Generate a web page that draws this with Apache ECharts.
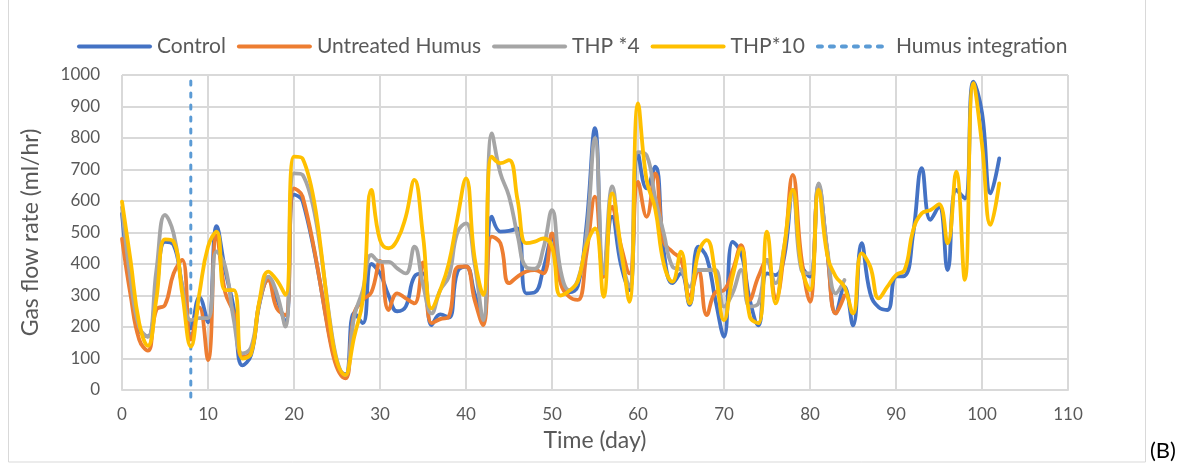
<!DOCTYPE html>
<html>
<head>
<meta charset="utf-8">
<title>Gas flow rate</title>
<script src="https://cdn.jsdelivr.net/npm/echarts@6/dist/echarts.min.js"></script>
<style>
  html, body { margin: 0; padding: 0; background: #ffffff; }
  #chart { width: 1185px; height: 473px; }
</style>
</head>
<body>
<div id="chart"></div>
<script>
// Measurement days (no readings on days 22-25)
const days = [
  0, 1, 2, 3, 4, 5, 6, 7, 8, 9, 10, 11, 12, 13, 14, 15, 16, 17, 18, 19, 20, 21,
  26, 27, 28, 29, 30, 31, 32, 33, 34, 35, 36, 37, 38, 39, 40, 41, 42, 43, 44, 45,
  46, 47, 48, 49, 50, 51, 52, 53, 54, 55, 56, 57, 58, 59, 60, 61, 62, 63, 64, 65,
  66, 67, 68, 69, 70, 71, 72, 73, 74, 75, 76, 77, 78, 79, 80, 81, 82, 83, 84, 85,
  86, 87, 88, 89, 90, 91, 92, 93, 94, 95, 96, 97, 98, 99, 100, 101, 102
];

// Gas flow rate (ml/hr) per reactor, aligned with `days`
const control = [
  560, 320, 190, 170, 320, 470, 460, 330, 195, 295, 215, 520, 380, 260, 78, 110, 275, 350, 290, 215, 620, 600,
  50, 245, 212, 400, 370, 300, 250, 265, 360, 370, 206, 240, 230, 375, 392, 307, 222, 550, 503, 505,
  513, 307, 310, 385, 480, 345, 310, 330, 520, 831, 360, 550, 400, 317, 750, 640, 709, 440, 339, 370,
  270, 455, 420, 286, 169, 470, 434, 286, 205, 370, 365, 423, 635, 400, 360, 650, 440, 243, 328, 205,
  466, 307, 262, 254, 360, 362, 497, 704, 540, 582, 381, 635, 608, 979, 880, 624, 735
];
const untreatedHumus = [
  480, 300, 160, 125, 255, 270, 370, 413, 160, 262, 95, 490, 310, 243, 106, 120, 280, 349, 259, 238, 640, 614,
  37, 243, 286, 310, 410, 254, 307, 291, 275, 405, 212, 225, 233, 390, 392, 286, 206, 487, 466, 339,
  360, 376, 381, 370, 497, 340, 296, 286, 430, 614, 360, 582, 460, 370, 661, 550, 688, 470, 439, 413,
  300, 381, 238, 310, 317, 380, 460, 286, 360, 413, 290, 440, 683, 420, 280, 640, 440, 243, 300
];
const thp4 = [
  580, 350, 200, 169, 380, 556, 497, 330, 222, 228, 228, 440, 392, 222, 116, 135, 280, 360, 307, 201, 688, 683,
  48, 233, 317, 429, 407, 407, 386, 370, 455, 335, 243, 317, 360, 500, 529, 400, 222, 815, 688, 615,
  490, 390, 385, 450, 571, 380, 317, 349, 490, 800, 370, 646, 434, 328, 755, 745, 610, 497, 392, 381,
  328, 381, 381, 381, 265, 307, 381, 265, 275, 413, 339, 455, 624, 381, 370, 656, 450, 307, 349
];
const thp10 = [
  598, 410, 212, 140, 290, 478, 471, 307, 138, 307, 455, 503, 317, 317, 100, 115, 286, 376, 349, 302, 741, 735,
  48, 169, 286, 635, 476, 450, 476, 550, 667, 490, 259, 317, 402, 545, 672, 420, 302, 741, 720, 730,
  603, 466, 471, 481, 455, 300, 315, 345, 460, 513, 296, 624, 455, 280, 910, 667, 575, 400, 344, 439,
  275, 434, 476, 370, 222, 360, 450, 233, 212, 503, 275, 455, 635, 392, 317, 635, 430, 360, 328, 243,
  434, 392, 291, 328, 365, 381, 508, 561, 571, 590, 466, 693, 350, 974, 780, 524, 656
];

// Day on which humus was added, and the vertical span of its marker line
const humusDay = 8;
const humusSpan = [-22, 1000];

const xTicks = { min: 0, max: 110, step: 10 };
const yTicks = { min: 0, max: 1000, step: 100 };

const FONT = 'Lato, "Open Sans", sans-serif';
const TEXT = '#595959';
const GRID = '#D9D9D9';

function pairs(values) {
  return values.map((v, i) => [days[i], v]);
}

function flowSeries(name, values, color) {
  return {
    name: name,
    type: 'line',
    data: pairs(values),
    smooth: 0.45,
    symbol: 'none',
    showSymbol: false,
    lineStyle: { color: color, width: 3.8, cap: 'round', join: 'round' },
    itemStyle: { color: color },
    z: 3
  };
}

const chart = echarts.init(document.getElementById('chart'), null, { renderer: 'canvas' });

chart.setOption({
  animation: false,
  backgroundColor: '#ffffff',
  textStyle: { fontFamily: FONT },
  graphic: [
    {
      type: 'rect',
      shape: { x: 8.5, y: -2, width: 1137, height: 464 },
      style: { fill: null, stroke: GRID, lineWidth: 1 },
      silent: true
    },
    {
      type: 'text',
      left: 1150,
      top: 440,
      style: { text: '(B)', fill: '#000000', font: '22px ' + FONT }
    }
  ],
  legend: {
    top: 31,
    left: 72,
    itemWidth: 71,
    itemHeight: 4,
    itemGap: 11,
    itemStyle: { opacity: 0 },
    lineStyle: { width: 4 },
    textStyle: { color: TEXT, fontSize: 21, fontFamily: FONT, padding: [0, 0, 0, 2] },
    data: ['Control', 'Untreated Humus', 'THP *4', 'THP*10', 'Humus integration']
  },
  grid: { left: 122, right: 117, top: 75, bottom: 83, containLabel: false },
  xAxis: {
    type: 'value',
    min: xTicks.min,
    max: xTicks.max,
    interval: xTicks.step,
    name: 'Time (day)',
    nameLocation: 'middle',
    nameGap: 39,
    nameTextStyle: { color: TEXT, fontSize: 23, fontFamily: FONT },
    axisLine: { show: true, onZero: false, lineStyle: { color: GRID, width: 2 } },
    axisTick: { show: false },
    axisLabel: { color: TEXT, fontSize: 17, fontFamily: FONT, margin: 16 },
    splitLine: { show: true, lineStyle: { color: GRID, width: 2 } }
  },
  yAxis: {
    type: 'value',
    min: yTicks.min,
    max: yTicks.max,
    interval: yTicks.step,
    name: 'Gas flow rate (ml/hr)',
    nameLocation: 'middle',
    nameGap: 80,
    nameRotate: 90,
    nameTextStyle: { color: TEXT, fontSize: 23, fontFamily: FONT },
    axisLine: { show: false },
    axisTick: { show: false },
    axisLabel: { color: TEXT, fontSize: 17, fontFamily: FONT, margin: 22, formatter: v => String(v) },
    splitLine: { show: true, lineStyle: { color: GRID, width: 2 } }
  },
  series: [
    flowSeries('Control', control, '#4472C4'),
    flowSeries('Untreated Humus', untreatedHumus, '#ED7D31'),
    flowSeries('THP *4', thp4, '#A5A5A5'),
    flowSeries('THP*10', thp10, '#FFC000'),
    {
      name: 'Humus integration',
      type: 'line',
      data: humusSpan.map(v => [humusDay, v]),
      symbol: 'none',
      showSymbol: false,
      clip: false,
      lineStyle: { color: '#5B9BD5', width: 3, type: [4, 8], cap: 'round' },
      itemStyle: { color: '#5B9BD5' },
      z: 2
    }
  ]
});
</script>
</body>
</html>
